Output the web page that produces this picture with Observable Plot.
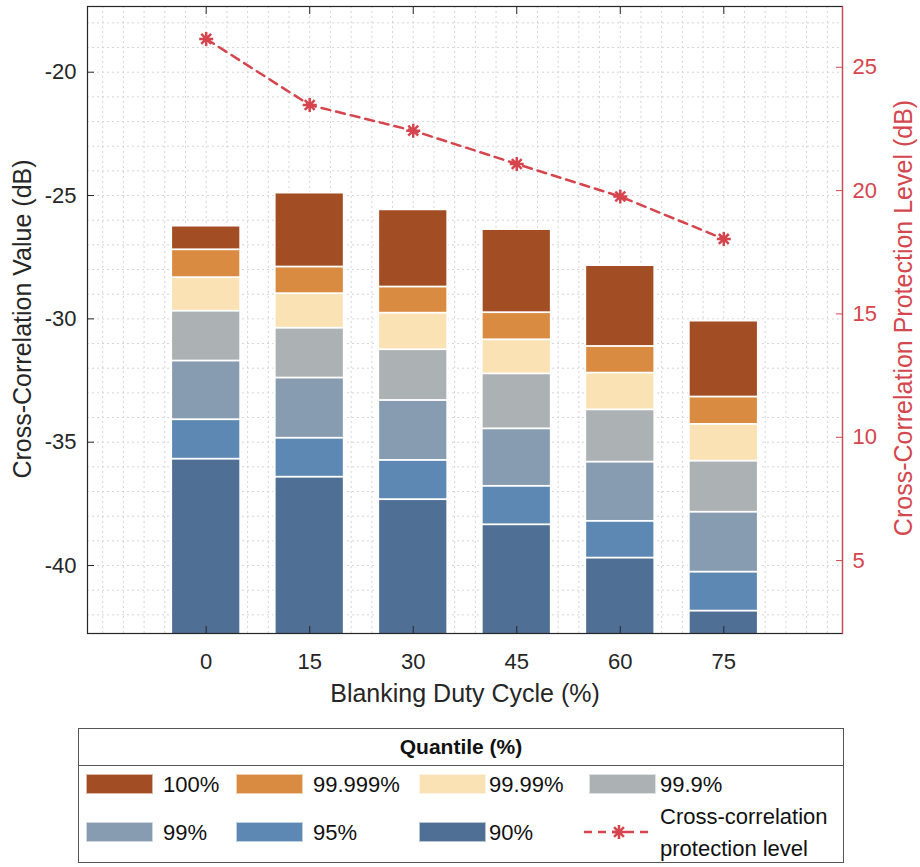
<!DOCTYPE html>
<html>
<head>
<meta charset="utf-8">
<script src="https://cdn.jsdelivr.net/npm/d3@7"></script>
<script src="https://cdn.jsdelivr.net/npm/@observablehq/plot@0.6"></script>
<style>
  body { margin: 0; background: #fff; font-family: "Liberation Sans", Arial, sans-serif; }
  #wrap { position: relative; width: 920px; height: 867px; overflow: hidden; }
  #chart, #overlay { position: absolute; left: 0; top: 0; }
  .axlab { position: absolute; font-size: 25px; white-space: nowrap; color: #262626; }
  .rot { transform: translate(-50%, -50%) rotate(-90deg); }
  #xlab { left: 465px; top: 693px; transform: translate(-50%, -50%); }
  #ylab { left: 22px; top: 319px; }
  #ylab2 { left: 903px; top: 318px; color: #d4474e; }
  #legend { position: absolute; left: 78px; top: 728px; width: 766px; height: 135px; border: 1px solid #555; box-sizing: border-box; background: #fff; }
  #legend .title { position: absolute; left: 0; right: 0; top: 0; height: 36px; border-bottom: 1px solid #555; text-align: center; font-weight: bold; font-size: 21px; line-height: 36px; color: #111; }
  #legend .sw { position: absolute; width: 67px; height: 20px; box-sizing: border-box; border: 1px solid rgba(255,255,255,0.6); }
  #legend .lb { position: absolute; font-size: 22px; color: #111; white-space: nowrap; transform: translateY(-50%); }
</style>
</head>
<body>
<div id="wrap">
  <div id="chart"></div>
  <div id="overlay"></div>
  <div class="axlab rot" id="ylab">Cross-Correlation Value (dB)</div>
  <div class="axlab rot" id="ylab2">Cross-Correlation Protection Level (dB)</div>
  <div class="axlab" id="xlab">Blanking Duty Cycle (%)</div>
  <div id="legend"><div class="title">Quantile (%)</div></div>
</div>
<script>
// ---- data ----
const duty = [0, 15, 30, 45, 60, 75];
const quantileLabels = ["100%", "99.999%", "99.99%", "99.9%", "99%", "95%", "90%"];
const quantileColors = ["#a24d23", "#d98b42", "#fae2b4", "#acb1b4", "#889cb1", "#5d88b4", "#506f94"];
const q100   = [-26.24, -24.90, -25.58, -26.38, -27.84, -30.09];
const q99999 = [-27.20, -27.90, -28.71, -29.75, -31.12, -33.17];
const q9999  = [-28.33, -28.98, -29.77, -30.85, -32.20, -34.28];
const q999   = [-29.69, -30.38, -31.25, -32.23, -33.69, -35.77];
const q99    = [-31.71, -32.40, -33.31, -34.46, -35.81, -37.84];
const q95    = [-34.09, -34.84, -35.74, -36.79, -38.21, -40.27];
const q90    = [-35.69, -36.42, -37.33, -38.35, -39.70, -41.85];
const protection = [26.15, 23.47, 22.43, 21.08, 19.76, 18.04];
const leftTicks = [-40, -35, -30, -25, -20];
const rightTicks = [5, 10, 15, 20, 25];

// ---- layout / style constants ----
const W = 920, H = 715;
const margins = {marginLeft: 87, marginRight: 78, marginTop: 6, marginBottom: 82};
const xDomain = [-17.2, 92.2];
const yDomainLeft = [-42.756, -17.336];
const yDomainRight = [2.044, 27.464];
const barHalf = 5;
const baseValue = -50;
const red = "#d6454e";
const axisColor = "#262626";

const series = [q100, q99999, q9999, q999, q99, q95, q90];
const bars = quantileLabels.flatMap((q, k) => duty.map((d, i) => ({duty: d, quantile: q, value: series[k][i]})));
const lineData = duty.map((d, i) => ({duty: d, protection: protection[i]}));

const asterisk = {
  draw(ctx, size) {
    const r = Math.sqrt(size / Math.PI), d = r * Math.SQRT1_2;
    ctx.moveTo(-r, 0); ctx.lineTo(r, 0);
    ctx.moveTo(0, -r); ctx.lineTo(0, r);
    ctx.moveTo(-d, -d); ctx.lineTo(d, d);
    ctx.moveTo(-d, d); ctx.lineTo(d, -d);
  }
};

const grid = {stroke: "#d6d6d6", strokeOpacity: 1, strokeDasharray: "2,3", strokeWidth: 1};

const main = Plot.plot({
  width: W, height: H, ...margins,
  style: {fontFamily: "Liberation Sans, Arial, sans-serif", fontSize: "22px", color: axisColor, background: "white", overflow: "visible"},
  x: {domain: xDomain},
  y: {domain: yDomainLeft},
  color: {domain: quantileLabels, range: quantileColors},
  marks: [
    Plot.gridX({ticks: d3.range(-15, 91, 3), ...grid}),
    Plot.gridY({ticks: d3.range(-42, -17, 1), ...grid}),
    Plot.rectY(bars, {
      x1: d => d.duty - barHalf, x2: d => d.duty + barHalf,
      y1: baseValue, y2: "value",
      fill: "quantile", stroke: "white", strokeWidth: 1.8, clip: true
    }),
    Plot.frame({stroke: axisColor, strokeWidth: 1.2}),
    Plot.axisY({ticks: leftTicks, tickSize: -7, tickPadding: 18, tickFormat: d => String(d), label: null}),
    Plot.axisX({ticks: duty, tickSize: -7, tickPadding: 27, tickFormat: d => String(d), label: null}),
    Plot.axisX({anchor: "top", ticks: duty, tickSize: -7, tickFormat: () => "", label: null})
  ]
});
document.getElementById("chart").append(main);

const over = Plot.plot({
  width: W, height: H, ...margins,
  style: {fontFamily: "Liberation Sans, Arial, sans-serif", fontSize: "22px", color: red, background: "transparent", overflow: "visible"},
  x: {domain: xDomain, axis: null},
  y: {domain: yDomainRight},
  marks: [
    Plot.line(lineData, {x: "duty", y: "protection", stroke: red, strokeWidth: 2.5, strokeDasharray: "9,6"}),
    Plot.dot(lineData, {x: "duty", y: "protection", symbol: asterisk, r: 7, stroke: red, fill: "none", strokeWidth: 2.5}),
    Plot.axisY({anchor: "right", ticks: rightTicks, tickSize: -7, tickPadding: 17, tickFormat: d => String(d), label: null}),
    Plot.frame({anchor: "right", stroke: red, strokeWidth: 1.2})
  ]
});
document.getElementById("overlay").append(over);

// ---- legend (HTML) ----
const legend = document.getElementById("legend");
const swLeft = [7, 157, 340, 510];
const lbLeft = [84, 234, 410, 581];
const rowY = [55, 103];
quantileLabels.forEach((q, k) => {
  const row = k < 4 ? 0 : 1, col = k < 4 ? k : k - 4;
  const sw = document.createElement("div");
  sw.className = "sw";
  sw.style.left = swLeft[col] + "px";
  sw.style.top = (rowY[row] - 10) + "px";
  sw.style.background = quantileColors[k];
  legend.append(sw);
  const lb = document.createElement("div");
  lb.className = "lb";
  lb.style.left = lbLeft[col] + "px";
  lb.style.top = (rowY[row] + 1) + "px";
  lb.textContent = q;
  legend.append(lb);
});
// line entry
const ns = "http://www.w3.org/2000/svg";
const ls = document.createElementNS(ns, "svg");
ls.setAttribute("width", 70); ls.setAttribute("height", 20);
ls.style.position = "absolute"; ls.style.left = "505px"; ls.style.top = (rowY[1] - 10) + "px";
const ln = document.createElementNS(ns, "line");
ln.setAttribute("x1", 0); ln.setAttribute("x2", 70); ln.setAttribute("y1", 10); ln.setAttribute("y2", 10);
ln.setAttribute("stroke", red); ln.setAttribute("stroke-width", 2.5); ln.setAttribute("stroke-dasharray", "8,6");
ls.append(ln);
const st = document.createElementNS(ns, "path");
const r = 7, dd = r * Math.SQRT1_2;
st.setAttribute("d", `M${35 - r},10H${35 + r}M35,${10 - r}V${10 + r}M${35 - dd},${10 - dd}L${35 + dd},${10 + dd}M${35 - dd},${10 + dd}L${35 + dd},${10 - dd}`);
st.setAttribute("stroke", red); st.setAttribute("stroke-width", 2.5); st.setAttribute("fill", "none");
ls.append(st);
legend.append(ls);
const l1 = document.createElement("div");
l1.className = "lb"; l1.style.left = "581px"; l1.style.top = "88px"; l1.textContent = "Cross-correlation";
const l2 = document.createElement("div");
l2.className = "lb"; l2.style.left = "581px"; l2.style.top = "120px"; l2.textContent = "protection level";
legend.append(l1, l2);
</script>
</body>
</html>
